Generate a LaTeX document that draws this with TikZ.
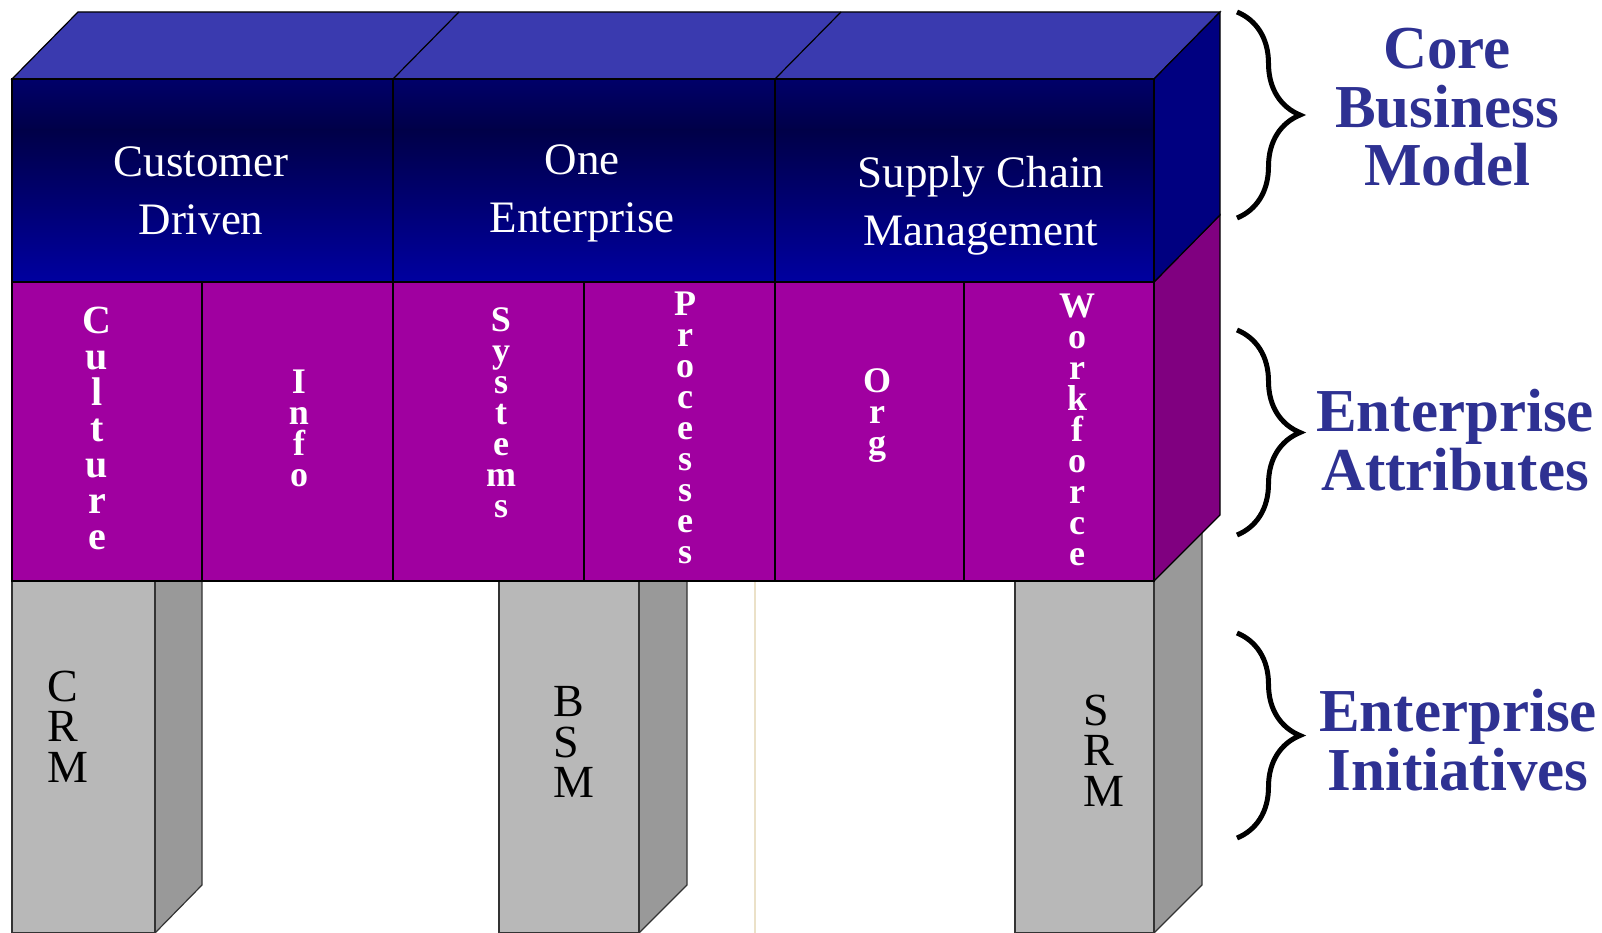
\documentclass[tikz,border=0pt]{standalone}
\usepackage{fontspec}
\setmainfont{Liberation Serif}
\usetikzlibrary{decorations.pathreplacing}
\definecolor{topblue}{RGB}{58,58,175}
\definecolor{sideblue}{RGB}{0,0,128}
\definecolor{frontblueA}{RGB}{0,0,105}
\definecolor{frontblueB}{RGB}{0,0,72}
\definecolor{frontblueC}{RGB}{0,0,160}
\definecolor{magfront}{RGB}{160,0,160}
\definecolor{magside}{RGB}{128,0,128}
\definecolor{pillarfront}{RGB}{184,184,184}
\definecolor{pillarside}{RGB}{153,153,153}
\definecolor{labelblue}{RGB}{46,49,146}
\definecolor{guideline}{RGB}{235,225,200}
\begin{document}
\begin{tikzpicture}[x=1pt,y=-1pt,line width=1.2pt,
  blocktext/.style={anchor=north,inner sep=0,align=center,text=white,font=\fontsize{45}{58}\selectfont},
  attrword/.style={anchor=north,inner sep=0,align=center,text=white,font=\fontsize{36}{31}\selectfont\bfseries},
  initword/.style={anchor=north west,inner sep=0,align=left,font=\fontsize{46}{40.5}\selectfont},
  tier/.style={anchor=north,inner sep=0,align=center,text=labelblue,font=\fontsize{61}{58.5}\selectfont\bfseries},
  bracket/.style={decorate,decoration={brace,amplitude=63pt},line width=5pt}]
\useasboundingbox (0,0) rectangle (1602,933);
\filldraw[fill=pillarside,draw=black!80] (155,581) -- (202,581) -- (202,885) -- (155,933) -- cycle;
\filldraw[fill=pillarfront,draw=black!80] (12,581) rectangle (155,933);
\filldraw[fill=pillarside,draw=black!80] (639,581) -- (687,581) -- (687,885) -- (639,933) -- cycle;
\filldraw[fill=pillarfront,draw=black!80] (499,581) rectangle (639,933);
\filldraw[fill=pillarside,draw=black!80] (1154,520) -- (1202,520) -- (1202,885) -- (1154,933) -- cycle;
\filldraw[fill=pillarfront,draw=black!80] (1015,581) rectangle (1154,933);
\draw[guideline,line width=1.5pt] (755,581) -- (755,933);
\filldraw[fill=magside,draw=black] (1154,282) -- (1220,215) -- (1220,515) -- (1154,581) -- cycle;
\filldraw[fill=magfront,draw=black] (12,282) rectangle (1154,581);
\foreach \x in {202,393,584,775,964}
  \draw (\x,282) -- (\x,581);
\filldraw[fill=topblue,draw=black] (12,79) -- (78,12) -- (1220,12) -- (1154,79) -- cycle;
\draw (393,79) -- (459,12);
\draw (775,79) -- (841,12);
\filldraw[fill=sideblue,draw=black] (1154,79) -- (1220,12) -- (1220,215) -- (1154,282) -- cycle;
\shade[top color=frontblueA,bottom color=frontblueB] (12,79) rectangle (1154,130);
\shade[top color=frontblueB,bottom color=frontblueC] (12,130) rectangle (1154,282);
\draw (12,79) rectangle (1154,282);
\foreach \x in {393,775}
  \draw (\x,79) -- (\x,282);
\node[blocktext] (cust) at (201,146) {Customer\\Driven};
\node[blocktext] (one) at (582,144) {One\\Enterprise};
\node[blocktext] (scm) at (981,156) {Supply Chain\\Management};
\node[attrword,font=\fontsize{40}{36}\selectfont\bfseries] (cult) at (97,306) {C\\u\\l\\t\\u\\r\\e};
\node[attrword] (info) at (299,369) {I\\n\\f\\o};
\node[attrword] (sys) at (501,307) {S\\y\\s\\t\\e\\m\\s};
\node[attrword] (proc) at (685,291) {P\\r\\o\\c\\e\\s\\s\\e\\s};
\node[attrword] (org) at (877,368) {O\\r\\g};
\node[attrword] (work) at (1077,293) {W\\o\\r\\k\\f\\o\\r\\c\\e};
\node[initword] (crm) at (47,670) {C\\R\\M};
\node[initword] (bsm) at (553,686) {B\\S\\M};
\node[initword] (srm) at (1083,694) {S\\R\\M};
\node[tier] (core) at (1447,28) {Core\\Business\\Model};
\node[tier] (attr) at (1455,389) {Enterprise\\Attributes};
\node[tier] (init) at (1458,689) {Enterprise\\Initiatives};
\coordinate (coretop) at (1237,12);
\coordinate (corebot) at (1237,218);
\coordinate (attrtop) at (1237,330);
\coordinate (attrbot) at (1237,535);
\coordinate (inittop) at (1237,633);
\coordinate (initbot) at (1237,838);
\draw[bracket] (coretop) -- (corebot);
\draw[bracket] (attrtop) -- (attrbot);
\draw[bracket] (inittop) -- (initbot);
\end{tikzpicture}
\end{document}
